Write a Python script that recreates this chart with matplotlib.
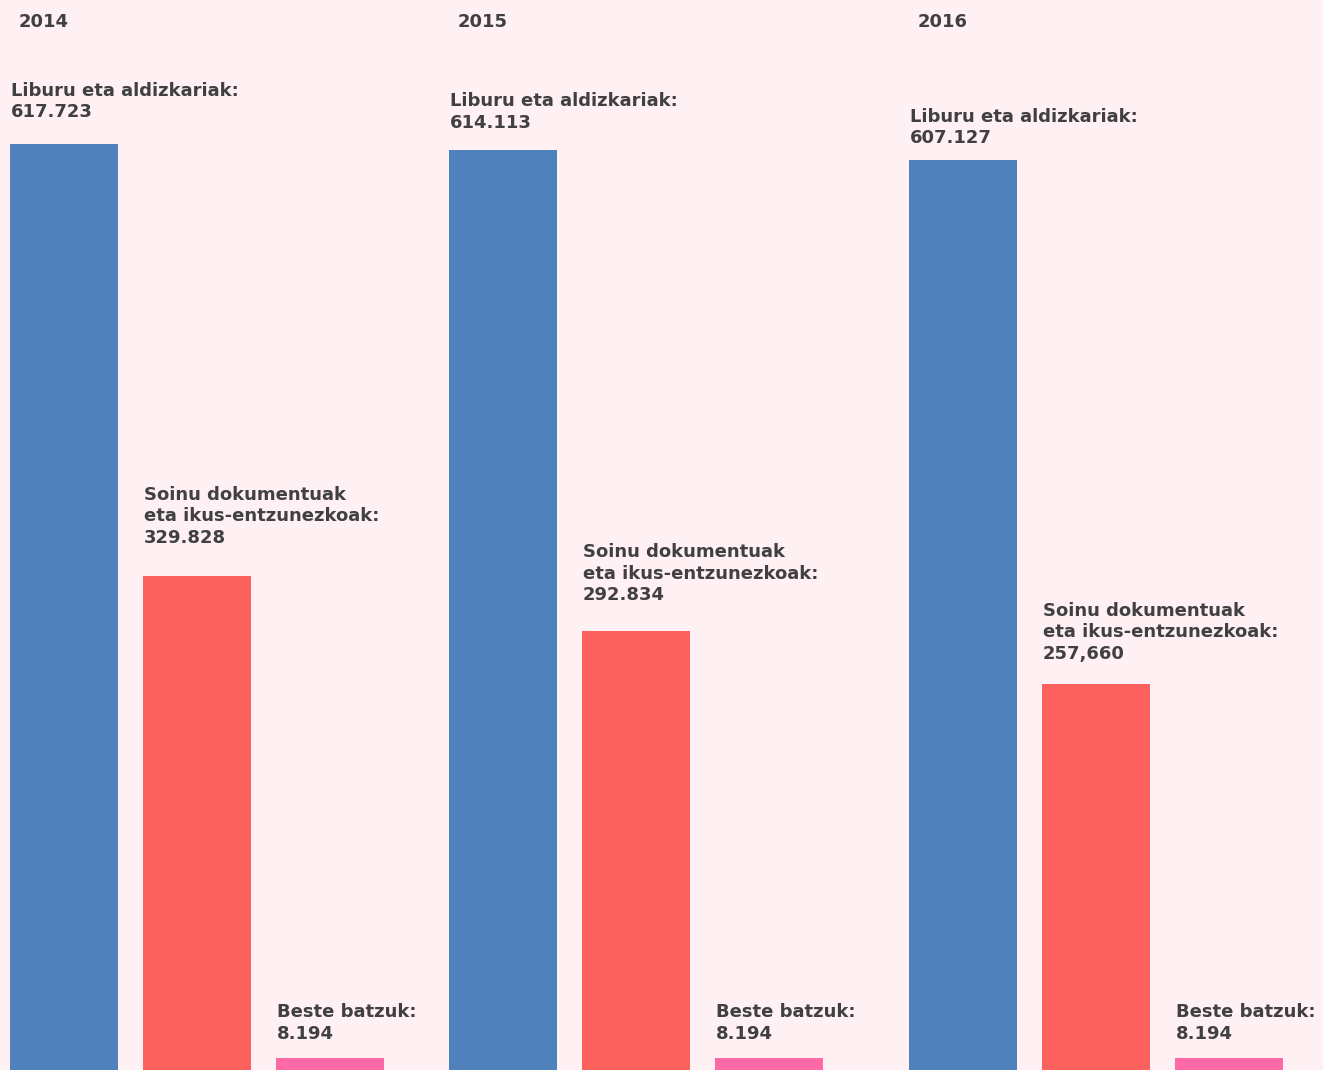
import matplotlib
matplotlib.use("Agg")
import matplotlib.pyplot as plt

# data (thousands of items)
years = ["2014", "2015", "2016"]
categories = ["Liburu eta aldizkariak:",
              "Soinu dokumentuak\neta ikus-entzunezkoak:",
              "Beste batzuk:"]
books = [617.723, 614.113, 607.127]
audiovisual = [329.828, 292.834, 257.660]
others = [8.194, 8.194, 8.194]
value_labels = [["617.723", "614.113", "607.127"],
                ["329.828", "292.834", "257,660"],
                ["8.194", "8.194", "8.194"]]

series = [books, audiovisual, others]
colors = ["#4f81bd", "#fd615e", "#ff69a6"]
bg = "#fff0f4"
text_color = "#404040"

W, H = 1323, 1070
fig = plt.figure(figsize=(W / 100, H / 100), dpi=100, facecolor=bg)
ax = fig.add_axes([0, 0, 1, 1])
ax.set_facecolor(bg)
ax.set_xlim(0, W)
ax.set_ylim(0, 714)
ax.axis("off")

group_left = [10, 449, 909]
bar_step = 133
bar_w = 108
# pixels between bar top and label bottom, per series and year
label_gap = [[23, 18, 13],
             [29, 27, 21],
             [15, 15, 15]]

font = dict(family=["DejaVu Sans"], fontweight="bold",
            fontsize=13, color=text_color)

for g, year in enumerate(years):
    ax.annotate(year, xy=(group_left[g] + 9, 714), xytext=(0, -27),
                textcoords="offset pixels", ha="left", va="baseline", **font)
    for s, vals in enumerate(series):
        x = group_left[g] + s * bar_step
        ax.bar(x, vals[g], width=bar_w, align="edge", color=colors[s],
               linewidth=0)
        ax.annotate(categories[s] + "\n" + value_labels[s][g],
                    xy=(x, vals[g]), xytext=(1, label_gap[s][g]),
                    textcoords="offset pixels", ha="left", va="bottom",
                    linespacing=1.25, **font)

fig.savefig("out.png", dpi=100, facecolor=bg)
